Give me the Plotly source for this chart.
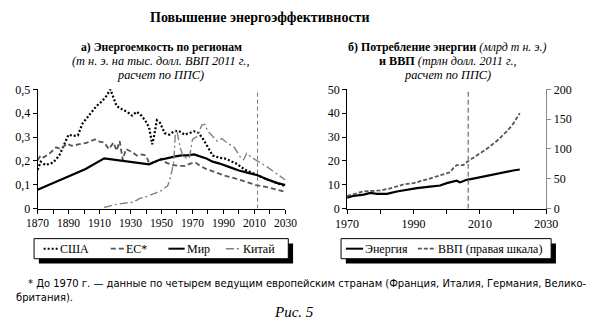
import plotly.graph_objects as go

W, H = 590, 327

# ---------------- DATA ----------------
# Panel a) energy intensity (toe per thousand 2011 PPP dollars)
usa_years = [1870, 1872, 1875, 1880, 1884, 1888, 1890, 1893, 1896, 1899, 1904, 1908, 1911, 1914, 1917,
             1919, 1921, 1925, 1928, 1931, 1934, 1937, 1940, 1942, 1944, 1945, 1947, 1949, 1952, 1955,
             1958, 1961, 1965, 1968, 1971, 1974, 1977, 1980, 1983, 1987, 1991, 1998, 2004, 2011, 2018, 2030]
usa_vals = [0.163, 0.197, 0.183, 0.193, 0.223, 0.286, 0.31, 0.305, 0.307, 0.357, 0.397, 0.43, 0.447, 0.468, 0.5,
            0.464, 0.43, 0.414, 0.405, 0.39, 0.406, 0.39, 0.364, 0.34, 0.27, 0.297, 0.37, 0.36, 0.317, 0.31,
            0.324, 0.326, 0.31, 0.317, 0.324, 0.317, 0.29, 0.257, 0.223, 0.214, 0.21, 0.19, 0.163, 0.143, 0.123, 0.094]

eu_years = [1870, 1872, 1874, 1878, 1882, 1885, 1889, 1892, 1897, 1902, 1907, 1910, 1913, 1916, 1919, 1921,
            1923, 1925, 1927, 1931, 1934, 1937, 1940, 1942, 1946, 1950, 1953, 1957, 1961, 1965, 1969, 1972,
            1975, 1979, 1985, 1992, 1998, 2004, 2011, 2018, 2030]
eu_vals = [0.203, 0.223, 0.215, 0.233, 0.257, 0.25, 0.273, 0.263, 0.27, 0.277, 0.29, 0.281, 0.277, 0.25, 0.277,
           0.243, 0.283, 0.203, 0.25, 0.237, 0.223, 0.227, 0.223, 0.19, 0.197, 0.21, 0.193, 0.183, 0.179, 0.179,
           0.19, 0.193, 0.179, 0.166, 0.152, 0.136, 0.126, 0.112, 0.099, 0.09, 0.07]

world_years = [1870, 1901, 1913, 1940, 1942, 1948, 1952, 1955, 1959, 1963, 1967, 1971, 1975, 1979, 1983,
               1987, 1994, 2000, 2006, 2012, 2018, 2025, 2030]
world_vals = [0.079, 0.166, 0.211, 0.19, 0.186, 0.203, 0.21, 0.214, 0.219, 0.223, 0.223, 0.227, 0.219, 0.21,
              0.197, 0.19, 0.174, 0.16, 0.15, 0.14, 0.123, 0.107, 0.099]

china_years = [1913, 1919, 1928, 1932, 1936, 1940, 1946, 1950, 1954, 1956, 1958, 1959, 1960, 1962, 1964, 1967,
               1968, 1970, 1973, 1976, 1978, 1980, 1983, 1986, 1989, 1992, 1997, 2001, 2003, 2005, 2008, 2012,
               2018, 2030]
china_vals = [0.005, 0.016, 0.025, 0.027, 0.043, 0.05, 0.065, 0.076, 0.096, 0.136, 0.2, 0.33, 0.324, 0.257,
              0.217, 0.21, 0.214, 0.29, 0.303, 0.35, 0.353, 0.324, 0.303, 0.283, 0.294, 0.277, 0.257, 0.215,
              0.205, 0.232, 0.215, 0.2, 0.176, 0.12]

# Panel b) energy consumption (bn toe) and GDP (trn 2011 PPP dollars, right axis)
energy_years = [1970, 1972, 1975, 1977, 1979, 1982, 1985, 1988, 1991, 1995, 1998, 2000, 2002, 2003, 2004,
                2006, 2008, 2011, 2014, 2017, 2020, 2022]
energy_vals = [4.6, 5.4, 5.9, 6.6, 6.2, 6.2, 7.2, 7.9, 8.6, 9.2, 9.7, 10.7, 11.4, 11.7, 11.0, 12.1, 12.6,
               13.5, 14.3, 15.3, 16.0, 16.4]

gdp_years = [1970, 1975, 1980, 1983, 1987, 1990, 1994, 1998, 2001, 2002, 2003, 2005, 2006, 2009, 2012, 2015,
             2018, 2020, 2022]
gdp_vals = [21.4, 29, 30.5, 34, 40.6, 42.8, 49, 55.6, 61, 68, 73, 73, 78, 89, 100, 113, 129, 142, 160]

forecast_year_a = 2012
forecast_year_b = 2006.5

names_a = ["США", "ЕС*", "Мир", "Китай"]
names_b = ["Энергия", "ВВП (правая шкала)"]

# ---------------- STYLE ----------------
SERIF = "Liberation Serif, Times New Roman, serif"
styles_a = [
    dict(color="black", width=2.2, dash="2px,2px"),
    dict(color="#555555", width=1.8, dash="5px,3px"),
    dict(color="black", width=2.2, dash="solid"),
    dict(color="#808080", width=1.4, dash="8px,3px,2px,3px"),
]
styles_b = [
    dict(color="black", width=2.2, dash="solid"),
    dict(color="#555555", width=1.8, dash="4px,2px"),
]

def px(x):
    return x / W

def py(y):
    return 1 - y / H

fig = go.Figure()
series_a = [(usa_years, usa_vals), (eu_years, eu_vals), (world_years, world_vals), (china_years, china_vals)]
for (xs, ys), nm, st in zip(series_a, names_a, styles_a):
    fig.add_trace(go.Scatter(x=xs, y=ys, mode="lines", name=nm, line=st,
                             xaxis="x", yaxis="y", showlegend=False))

fig.add_trace(go.Scatter(x=energy_years, y=energy_vals, mode="lines", name=names_b[0], line=styles_b[0],
                         xaxis="x2", yaxis="y2", showlegend=False))
fig.add_trace(go.Scatter(x=gdp_years, y=gdp_vals, mode="lines", name=names_b[1], line=styles_b[1],
                         xaxis="x2", yaxis="y3", showlegend=False))

tickfont = dict(family=SERIF, size=12, color="black")
ydom = [py(210.7), py(86)]
common_x = dict(showgrid=False, zeroline=False, showline=True, linecolor="black", linewidth=1,
                ticks="outside", ticklen=4, tickcolor="black", tickfont=tickfont,
                minor=dict(dtick=10, ticks="outside", ticklen=4, tickcolor="black"))
common_y = dict(showgrid=False, zeroline=False, showline=True, linecolor="black", linewidth=1,
                ticks="outside", ticklen=4, tickcolor="black", tickfont=tickfont)

fig.update_layout(
    width=W, height=H, margin=dict(l=0, r=0, t=0, b=0),
    paper_bgcolor="white", plot_bgcolor="white",
    separators=", ",
    showlegend=False,
    xaxis=dict(common_x, domain=[px(26.7), px(285)], range=[1870, 2030], dtick=20, tick0=1870,
               anchor="y", tickfont=dict(family=SERIF, size=11.5, color="black")),
    yaxis=dict(common_y, domain=ydom, range=[0, 0.5], dtick=0.1, anchor="x"),
    xaxis2=dict(common_x, domain=[px(349.3), px(557)], range=[1970, 2030], dtick=20, tick0=1970,
                anchor="y2"),
    yaxis2=dict(common_y, domain=ydom, range=[0, 50], dtick=10, anchor="x2"),
    yaxis3=dict(common_y, range=[0, 200], dtick=50, overlaying="y2", side="right", anchor="x2",
                linecolor="#888888", tickcolor="#888888"),
)

shapes = []
# forecast markers
shapes.append(dict(type="line", xref="x", yref="y", x0=forecast_year_a, x1=forecast_year_a, y0=0, y1=0.5,
                   line=dict(color="#777777", width=1, dash="4px,3px")))
shapes.append(dict(type="line", xref="x2", yref="y2", x0=forecast_year_b, x1=forecast_year_b, y0=0, y1=50,
                   line=dict(color="#888888", width=1.5, dash="5px,3px")))

annotations = []

def text(x, y, s, size=12, xanchor="center", family=SERIF, color="black"):
    annotations.append(dict(xref="paper", yref="paper", x=px(x), y=py(y), text=s, showarrow=False,
                            xanchor=xanchor, yanchor="middle", borderpad=0,
                            font=dict(family=family, size=size, color=color)))

def legend_box(x0, x1, y0, y1, entries):
    shapes.append(dict(type="rect", xref="paper", yref="paper", x0=px(x0 + 5), x1=px(x1 + 5),
                       y0=py(y1 + 5), y1=py(y0 + 5), line=dict(width=0), fillcolor="black"))
    shapes.append(dict(type="rect", xref="paper", yref="paper", x0=px(x0), x1=px(x1),
                       y0=py(y1), y1=py(y0), line=dict(width=1, color="black"), fillcolor="white"))
    ym = (y0 + y1) / 2
    for sx0, sx1, tx, nm, st in entries:
        shapes.append(dict(type="line", xref="paper", yref="paper", x0=px(sx0), x1=px(sx1), y0=py(ym), y1=py(ym),
                           line=dict(color=st["color"], width=min(st["width"], 2), dash=st["dash"])))
        text(tx, ym, nm, size=12, xanchor="left")

legend_box(23, 288, 242, 263, [
    (33, 48, 49, names_a[0], styles_a[0]),
    (103, 117, 118, names_a[1], styles_a[1]),
    (163, 180, 181, names_a[2], styles_a[2]),
    (223, 238, 240, names_a[3], styles_a[3]),
])
legend_box(343, 562, 242, 263, [
    (348, 366, 367, names_b[0], styles_b[0]),
    (423, 442, 443, names_b[1], styles_b[1]),
])

# titles
text(259, 11, "<b>Повышение энергоэффективности</b>", size=14)
text(156, 42, "<b>а) Энергоемкость по регионам</b>", size=11.7)
text(155, 56.5, "<i>(т н. э. на тыс. долл. ВВП 2011 г.,</i>", size=12.3)
text(155, 71, "<i>расчет по ППС)</i>", size=12.3)
text(453, 42, "<b>б) Потребление энергии</b> <i>(млрд т н. э.)</i>", size=11.9)
text(454, 56.5, "<b>и ВВП</b> <i>(трлн долл. 2011 г.,</i>", size=12.2)
text(454, 71, "<i>расчет по ППС)</i>", size=12.3)

# footnote
NARROW = "Liberation Sans Narrow, DejaVu Sans Condensed, Liberation Sans, sans-serif"
text(16, 289, "* До 1970 г. — данные по четырем ведущим европейским странам (Франция, Италия, Германия, Велико-",
     size=11.1, xanchor="left", family=NARROW)
text(3, 303, "британия).", size=11.1, xanchor="left", family=NARROW)
text(294, 319, "<i>Рис. 5</i>", size=15)

fig.update_layout(shapes=shapes, annotations=annotations)
fig.write_html("out.html")
